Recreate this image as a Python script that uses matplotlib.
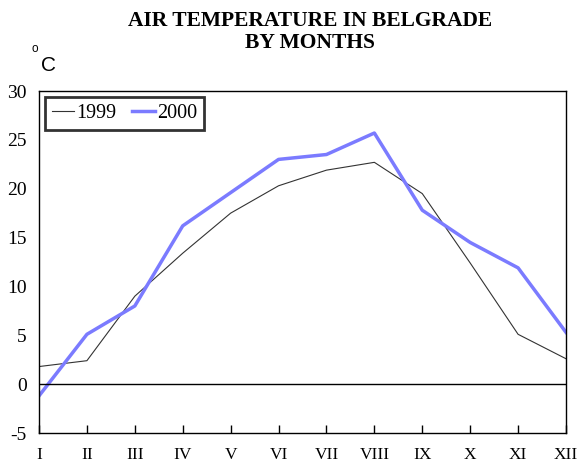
import matplotlib
matplotlib.use("Agg")
import matplotlib.pyplot as plt

months = ["I", "II", "III", "IV", "V", "VI", "VII", "VIII", "IX", "X", "XI", "XII"]
t1999 = [1.8, 2.4, 9.0, 13.4, 17.5, 20.3, 21.9, 22.7, 19.5, 12.4, 5.1, 2.6]
t2000 = [-1.2, 5.1, 8.0, 16.2, 19.6, 23.0, 23.5, 25.7, 17.8, 14.5, 11.9, 5.3]
yticks = [-5, 0, 5, 10, 15, 20, 25, 30]

plt.rcParams['font.family'] = ['Liberation Serif', 'DejaVu Serif']

fig = plt.figure(figsize=(5.8, 4.62), dpi=100)
ax = fig.add_axes([39/580, 29/462, 527/580, 342/462])
x = list(range(len(months)))
ax.plot(x, t1999, color='#333333', lw=0.8, label='1999')
ax.plot(x, t2000, color='#7b7bff', lw=2.5, label='2000')
ax.axhline(0, color='black', lw=1)
ax.set_xlim(0, len(months) - 1)
ax.set_ylim(-5, 30)
ax.set_xticks(x)
ax.set_xticklabels(months, fontsize=12.5)
ax.set_yticks(yticks)
ax.set_yticklabels([str(v) for v in yticks], fontsize=14)
ax.tick_params(axis='x', direction='in', length=6, width=1, pad=10)
ax.tick_params(axis='y', length=0, pad=9)
for s in ax.spines.values():
    s.set_linewidth(1)
leg = ax.legend(loc='upper left', ncol=2, fontsize=14.5, frameon=True, fancybox=False,
                handlelength=1.1, handletextpad=0.1, columnspacing=0.8,
                borderpad=0.35, bbox_to_anchor=(0.0, 1.0), borderaxespad=0.3)
leg.get_frame().set_edgecolor('black')
leg.get_frame().set_linewidth(2)
fig.text(310/580, 1 - 32/462, "AIR TEMPERATURE IN BELGRADE\nBY MONTHS", ha='center', va='center',
         fontsize=15.5, fontweight='bold', linespacing=1.15)
fig.text(32/580, 1 - 48.5/462, "o", fontsize=8.5, family='Liberation Sans', ha='left', va='center')
fig.text(41/580, 1 - 65/462, "C", fontsize=15, family='Liberation Sans', ha='left', va='center')
fig.savefig("out.png", dpi=100)
